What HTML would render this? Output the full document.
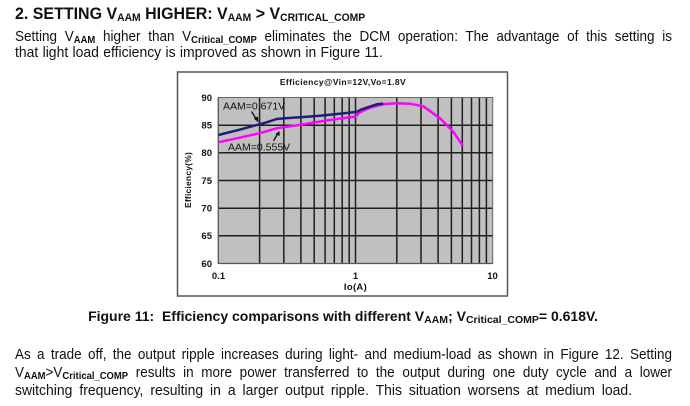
<!DOCTYPE html>
<html><head><meta charset="utf-8">
<style>
html,body{margin:0;padding:0;background:#fff;}
body{width:690px;height:406px;position:relative;overflow:hidden;font-family:"Liberation Sans",Arial,sans-serif;color:#111;}
.l{position:absolute;left:15px;width:730px;font-size:15px;line-height:16px;white-space:nowrap;transform:scaleX(0.9);transform-origin:0 0;}
.j{text-align:justify;text-align-last:justify;white-space:normal;}
.s{font-size:10.5px;font-weight:bold;vertical-align:-2px;line-height:0;}
.h{position:absolute;left:15px;top:5px;font-size:17px;font-weight:bold;line-height:18px;white-space:nowrap;transform:scaleX(0.94);transform-origin:0 0;}
.hs{font-size:11px;vertical-align:-2px;line-height:0;}
.cap{position:absolute;left:0;width:686px;text-align:center;top:308px;font-size:14px;font-weight:bold;line-height:16px;white-space:nowrap;}
svg{position:absolute;left:0;top:0;}
</style></head><body>
<div class="h">2. SETTING V<span class="hs">AAM</span> HIGHER: V<span class="hs">AAM</span> &gt; V<span class="hs">CRITICAL_COMP</span></div>
<div class="l j" style="top:29px">Setting V<span class="s">AAM</span> higher than V<span class="s">Critical_COMP</span> eliminates the DCM operation: The advantage of this setting is</div>
<div class="l" style="top:45px;transform:scaleX(0.93);word-spacing:0.5px">that light load efficiency is improved as shown in Figure 11.</div>

<svg width="690" height="406" viewBox="0 0 690 406">
<rect x="177.5" y="72" width="330" height="224" fill="#fff" stroke="#555" stroke-width="1.5"/>
<text x="343" y="85" font-family="Liberation Sans, Arial, sans-serif" font-size="8.5" font-weight="bold" text-anchor="middle" letter-spacing="0.4" fill="#111">Efficiency@Vin=12V,Vo=1.8V</text>
<rect x="218.3" y="97.5" width="274.4" height="166" fill="#c0c0c0"/>
<g stroke="#1e1e1e" stroke-width="1.5">
<line x1="259.6" y1="97.5" x2="259.6" y2="263.5"/>
<line x1="283.8" y1="97.5" x2="283.8" y2="263.5"/>
<line x1="300.9" y1="97.5" x2="300.9" y2="263.5"/>
<line x1="314.2" y1="97.5" x2="314.2" y2="263.5"/>
<line x1="325.1" y1="97.5" x2="325.1" y2="263.5"/>
<line x1="334.3" y1="97.5" x2="334.3" y2="263.5"/>
<line x1="342.2" y1="97.5" x2="342.2" y2="263.5"/>
<line x1="349.2" y1="97.5" x2="349.2" y2="263.5"/>
<line x1="355.5" y1="97.5" x2="355.5" y2="263.5"/>
<line x1="396.8" y1="97.5" x2="396.8" y2="263.5"/>
<line x1="421.0" y1="97.5" x2="421.0" y2="263.5"/>
<line x1="438.1" y1="97.5" x2="438.1" y2="263.5"/>
<line x1="451.4" y1="97.5" x2="451.4" y2="263.5"/>
<line x1="462.3" y1="97.5" x2="462.3" y2="263.5"/>
<line x1="471.5" y1="97.5" x2="471.5" y2="263.5"/>
<line x1="479.4" y1="97.5" x2="479.4" y2="263.5"/>
<line x1="486.4" y1="97.5" x2="486.4" y2="263.5"/>
<line x1="218.3" y1="125.2" x2="492.7" y2="125.2"/>
<line x1="218.3" y1="152.8" x2="492.7" y2="152.8"/>
<line x1="218.3" y1="180.5" x2="492.7" y2="180.5"/>
<line x1="218.3" y1="208.2" x2="492.7" y2="208.2"/>
<line x1="218.3" y1="235.8" x2="492.7" y2="235.8"/>
</g>
<rect x="218.3" y="97.5" width="274.4" height="166" fill="none" stroke="#666" stroke-width="1"/>
<line x1="218.3" y1="263.5" x2="492.7" y2="263.5" stroke="#555" stroke-width="1.2"/>
<line x1="218.3" y1="97.5" x2="218.3" y2="263.5" stroke="#555" stroke-width="1.2"/>
<g font-family="Liberation Sans, Arial, sans-serif" font-size="9.5" font-weight="bold" fill="#111" text-anchor="end">
<text x="212" y="101">90</text>
<text x="212" y="128.5">85</text>
<text x="212" y="156">80</text>
<text x="212" y="184">75</text>
<text x="212" y="211.5">70</text>
<text x="212" y="239">65</text>
<text x="212" y="267">60</text>
</g>
<g font-family="Liberation Sans, Arial, sans-serif" font-size="9.5" font-weight="bold" fill="#111" text-anchor="middle">
<text x="218.5" y="279">0.1</text>
<text x="355.5" y="279">1</text>
<text x="492.5" y="279">10</text>
<text x="355.5" y="290" letter-spacing="0.3">Io(A)</text>
<text transform="translate(191,180) rotate(-90)" font-size="8.5" letter-spacing="0.2">Efficiency(%)</text>
</g>
<polyline fill="none" stroke="#ff00ff" stroke-width="2.5" stroke-linejoin="round" points="218.3,142.3 236.7,138.3 259.3,133.3 276.7,128.3 303.3,124.3 323.3,121 336.7,119 355,116.7 360,112.3 370,107.7 383.3,104.3 396.7,103.3 410,103.7 423.3,106.3 440,118.3 453.3,131.7 462.7,145.7"/>
<polyline fill="none" stroke="#1e1e78" stroke-width="2.5" stroke-linejoin="round" points="218.3,135 240,129.6 259.3,124.3 266.7,122.3 276.7,119 285,118.3 303.3,117 320,115.7 336.7,114 350,112.6 356.7,111.7 361,109.6 366.7,107.7 376.7,104.3 383.3,103.6"/>
<g font-family="Liberation Sans, Arial, sans-serif" font-size="10.5" fill="#111">
<text x="223" y="109.5">AAM=0.671V</text>
<text x="228" y="150.5">AAM=0.555V</text>
</g>
<g stroke="#111" stroke-width="1.3" fill="#111">
<line x1="251.5" y1="111.5" x2="256.5" y2="119.5"/>
<polygon points="258.5,122.5 253.8,118.6 258,116.4" stroke="none"/>
<line x1="273.5" y1="141" x2="277.5" y2="134"/>
<polygon points="279.5,131 279.6,136 275.5,134" stroke="none"/>
</g>
</svg>

<div class="cap">Figure 11:&nbsp; Efficiency comparisons with different V<span class="s">AAM</span>; V<span class="s">Critical_COMP</span>= 0.618V.</div>

<div class="l j" style="top:347px">As a trade off, the output ripple increases during light- and medium-load as shown in Figure 12. Setting</div>
<div class="l j" style="top:365px">V<span class="s">AAM</span>&gt;V<span class="s">Critical_COMP</span> results in more power transferred to the output during one duty cycle and a lower</div>
<div class="l" style="top:383px;transform:scaleX(0.93);word-spacing:3.3px">switching frequency, resulting in a larger output ripple. This situation worsens at medium load.</div>
</body></html>
